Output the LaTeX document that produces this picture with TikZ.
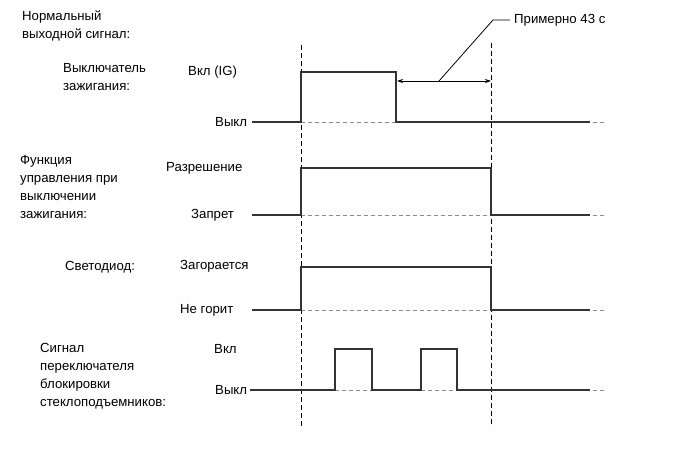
\documentclass[tikz,border=0pt]{standalone}
\usepackage{fontspec}
\setmainfont{Liberation Sans}
\usetikzlibrary{arrows.meta}

\tikzset{
  lbl/.style={font=\fontsize{13.2}{18}\selectfont, inner sep=0pt, align=left, anchor=west},
  sig/.style={line width=1.1pt, draw=black!80},
  base/.style={draw=black!45, line width=0.8pt, dash pattern=on 4pt off 3pt},
  guide/.style={draw=black, line width=0.9pt, dash pattern=on 5pt off 3pt},
  span/.style={line width=0.8pt, {Stealth[length=6pt,width=4pt]}-{Stealth[length=6pt,width=4pt]}}
}

\begin{document}
\begin{tikzpicture}[x=1pt,y=-1pt]
        \useasboundingbox (0,0) rectangle (689,468);

        % Titles on the left
        \node[lbl] (title) at (22,26) {Нормальный\\выходной сигнал:};
        \node[lbl] (ign) at (63,77) {Выключатель\\зажигания:};
        \node[lbl] (func) at (20,187) {Функция\\управления при\\выключении\\зажигания:};
        \node[lbl] (led) at (65,267) {Светодиод:};
        \node[lbl] (lock) at (40,376) {Сигнал\\переключателя\\блокировки\\стеклоподъемников:};

        % Level names
        \node[lbl] (ignOn) at (188,72) {Вкл (IG)};
        \node[lbl] (ignOff) at (215,122) {Выкл};
        \node[lbl] (funcOn) at (166,168) {Разрешение};
        \node[lbl] (funcOff) at (191,215) {Запрет};
        \node[lbl] (ledOn) at (180,266) {Загорается};
        \node[lbl] (ledOff) at (180,310) {Не горит};
        \node[lbl] (lockOn) at (214,349) {Вкл};
        \node[lbl] (lockOff) at (215,390) {Выкл};

        % Time marks
        \coordinate (t1top) at (301,45);
        \coordinate (t1bot) at (301,427);
        \coordinate (t2top) at (491,43);
        \coordinate (t2bot) at (491,427);
        \draw[guide] (t1top) -- (t1bot);
        \draw[guide] (t2top) -- (t2bot);

        % Ignition switch
        \draw[base] (301,122) -- (396,122);
        \draw[sig] (252,122) -- (301,122) -- (301,72) -- (396,72) -- (396,122) -- (590,122);
        \draw[base] (593,122) -- (604,122);

        % Function
        \draw[base] (301,215) -- (491,215);
        \draw[sig] (252,215) -- (301,215) -- (301,168) -- (491,168) -- (491,215) -- (590,215);
        \draw[base] (593,215) -- (604,215);

        % LED
        \draw[base] (301,310) -- (491,310);
        \draw[sig] (252,310) -- (301,310) -- (301,267) -- (491,267) -- (491,310) -- (590,310);
        \draw[base] (593,310) -- (604,310);

        % Window lock switch
        \draw[base] (335,390) -- (372,390);
        \draw[base] (421,390) -- (457,390);
        \draw[sig] (250,390) -- (335,390) -- (335,349) -- (372,349) -- (372,390)
                   -- (421,390) -- (421,349) -- (457,349) -- (457,390) -- (590,390);
        \draw[base] (593,390) -- (604,390);

        % Delay of about 43 s
        \coordinate (spanL) at (397,81);
        \coordinate (spanR) at (491,81);
        \coordinate (lead) at (439,81);
        \coordinate (knee) at (493,20);
        \coordinate (leadEnd) at (510,20);
        \node[lbl] (note) at (514,20) {Примерно 43 с};
        \draw[span] (spanL) -- (spanR);
        \draw[line width=0.8pt] (lead) -- (knee) -- (leadEnd);
\end{tikzpicture}
\end{document}
